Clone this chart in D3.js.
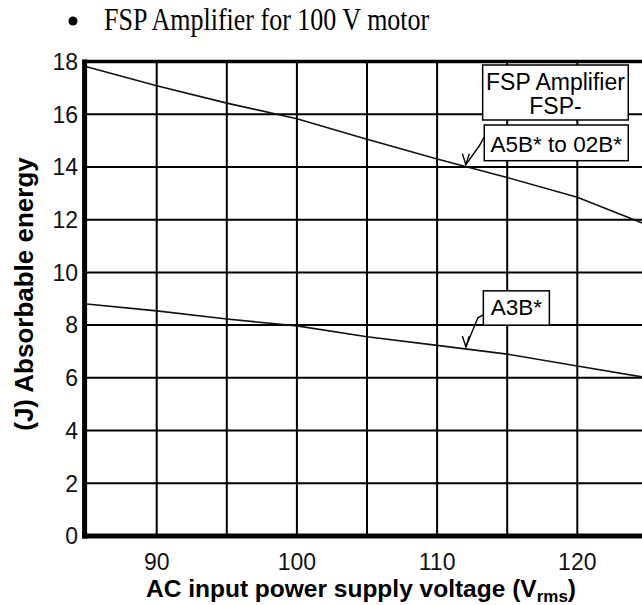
<!DOCTYPE html>
<html><head><meta charset="utf-8">
<script src="https://cdn.jsdelivr.net/npm/d3@7"></script>
<style>body{margin:0;background:#fff}svg{display:block}</style>
</head><body>
<svg id="c" width="642" height="605"></svg>
<script>
// ---- data ----
const voltages   = [85, 90, 95, 100, 105, 110, 115, 120, 125];
const seriesA5B  = [17.8, 17.08, 16.42, 15.83, 15.05, 14.3, 13.6, 12.85, 11.8];
const seriesA3B  = [8.8, 8.54, 8.23, 7.97, 7.56, 7.23, 6.9, 6.45, 6.0];
const xTickLabels = [90, 100, 110, 120];
const xGridValues = [90, 95, 100, 105, 110, 115, 120];
const yTickLabels = [0, 2, 4, 6, 8, 10, 12, 14, 16, 18];
const titleText = "FSP Amplifier for 100 V motor";
const legendHeader = ["FSP Amplifier", "FSP-"];
const labelA5B = "A5B* to 02B*";
const labelA3B = "A3B*";
const xTitle = "AC input power supply voltage (V";
const xTitleSub = "rms";
const yTitle = "(J) Absorbable energy";

// ---- layout ----
const W = 642, H = 605;
const svg = d3.select("#c");
const x = d3.scaleLinear().domain([85, 125]).range([86.6, 647.4]);
const y = d3.scaleLinear().domain([0, 18]).range([536, 61.5]);
const sans = "'Liberation Sans', Arial, sans-serif";
const serif = "'Liberation Serif', 'Times New Roman', serif";

// title
const t = svg.append("g");
t.append("circle").attr("cx", 73).attr("cy", 21).attr("r", 4.5).attr("fill", "#000");
t.append("text").attr("transform", "translate(104,30) scale(1,1.22)").attr("font-family", serif)
  .attr("font-size", 26).attr("fill", "#000").text(titleText);

// grid
const g = svg.append("g");
g.selectAll("line.h").data(yTickLabels.filter(v => v > 0 && v < 18)).join("line")
  .attr("x1", x(85)).attr("x2", W).attr("y1", d => y(d)).attr("y2", d => y(d))
  .attr("stroke", "#000").attr("stroke-width", 2);
g.selectAll("line.v").data(xGridValues).join("line")
  .attr("x1", d => x(d)).attr("x2", d => x(d)).attr("y1", y(18)).attr("y2", y(0))
  .attr("stroke", "#000").attr("stroke-width", 2);

// frame
g.append("line").attr("x1", x(85) - 4).attr("x2", W).attr("y1", y(18)).attr("y2", y(18))
  .attr("stroke", "#000").attr("stroke-width", 3.5);
g.append("line").attr("x1", x(85) - 2).attr("x2", x(85) - 2).attr("y1", y(18) - 2).attr("y2", y(0) + 2.5)
  .attr("stroke", "#000").attr("stroke-width", 5);
g.append("line").attr("x1", x(85) - 4.5).attr("x2", W).attr("y1", y(0)).attr("y2", y(0))
  .attr("stroke", "#000").attr("stroke-width", 5);

// data lines
const line = d3.line().x(d => x(d[0])).y(d => y(d[1]));
[seriesA5B, seriesA3B].forEach(s => {
  svg.append("path").datum(voltages.map((v, i) => [v, s[i]]))
    .attr("d", line).attr("fill", "none").attr("stroke", "#111").attr("stroke-width", 1.6);
});

// tick labels
svg.append("g").selectAll("text").data(yTickLabels).join("text")
  .attr("x", 78).attr("y", d => y(d)).attr("dy", "0.36em").attr("text-anchor", "end")
  .attr("font-family", sans).attr("font-size", 23).attr("fill", "#111").text(d => d);
svg.append("g").selectAll("text").data(xTickLabels).join("text")
  .attr("x", d => x(d)).attr("y", 570).attr("text-anchor", "middle")
  .attr("font-family", sans).attr("font-size", 23).attr("fill", "#111").text(d => d);

// axis titles
const xt = svg.append("text").attr("x", 361).attr("y", 597).attr("text-anchor", "middle")
  .attr("font-family", sans).attr("font-weight", "bold").attr("font-size", 24.5).attr("fill", "#000");
xt.append("tspan").text(xTitle);
xt.append("tspan").attr("font-size", 17).attr("dy", 5).text(xTitleSub);
xt.append("tspan").attr("dy", -5).text(")");
svg.append("text").attr("transform", `translate(33,${294}) rotate(-90)`).attr("text-anchor", "middle")
  .attr("font-family", sans).attr("font-weight", "bold").attr("font-size", 26).attr("fill", "#000").text(yTitle);

// legend / annotations
function interp(series, v) {
  return d3.scaleLinear().domain(voltages).range(series)(v);
}
const ann = svg.append("g").attr("font-family", sans).attr("fill", "#000");
// header box
const bx = x(113.25);
ann.append("rect").attr("x", bx).attr("y", 65).attr("width", 145.6).attr("height", 55)
  .attr("fill", "#fff").attr("stroke", "#000").attr("stroke-width", 1.5);
ann.selectAll("text.h").data(legendHeader).join("text")
  .attr("x", bx + 72.8).attr("y", (d, i) => 89.5 + i * 24.5).attr("text-anchor", "middle")
  .attr("font-size", 23).text(d => d);
// A5B box
ann.append("rect").attr("x", bx + 1.6).attr("y", 125).attr("width", 144).attr("height", 35.7)
  .attr("fill", "#fff").attr("stroke", "#000").attr("stroke-width", 1.5);
ann.append("text").attr("x", bx + 73.6).attr("y", 151.7).attr("text-anchor", "middle")
  .attr("font-size", 22.5).text(labelA5B);
// A3B box
const b3x = x(113.3), b3y = y(9.3);
ann.append("rect").attr("x", b3x).attr("y", b3y).attr("width", 66).attr("height", 34.3)
  .attr("fill", "#fff").attr("stroke", "#000").attr("stroke-width", 1.5);
ann.append("text").attr("x", b3x + 33).attr("y", b3y + 24.5).attr("text-anchor", "middle")
  .attr("font-size", 22.5).text(labelA3B);

// arrows
function arrow(x0, y0, xm, ym, tipV, series) {
  const tx = x(tipV), ty = y(interp(series, tipV)) - 2;
  ann.append("path").attr("d", `M${x0},${y0}L${xm},${ym}L${tx},${ty}`)
    .attr("fill", "none").attr("stroke", "#000").attr("stroke-width", 1.4);
  ann.append("path").attr("d", `M${tx - 3.5},${ty - 11}L${tx},${ty}L${tx + 3.5},${ty - 11}`)
    .attr("fill", "none").attr("stroke", "#000").attr("stroke-width", 1.4);
}
arrow(bx + 1.6, 137, bx - 3.5, 146, 112.05, seriesA5B);
arrow(b3x, b3y + 24, b3x - 5.5, b3y + 27, 112.05, seriesA3B);
</script>
</body></html>
